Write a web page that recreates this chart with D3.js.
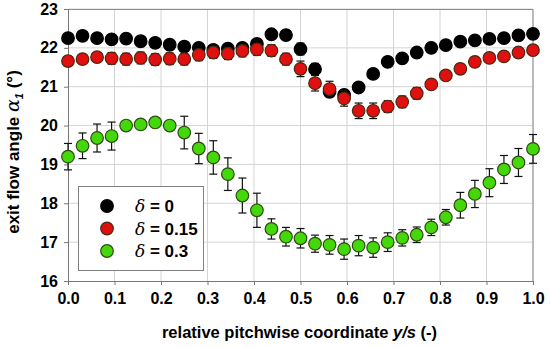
<!DOCTYPE html>
<html>
<head>
<meta charset="utf-8">
<script src="https://cdn.jsdelivr.net/npm/d3@7"></script>
<style>
  body { margin: 0; background: #fff; }
  text { font-family: "Liberation Sans", Arial, sans-serif; }
</style>
</head>
<body>
<div id="chart"></div>
<script>
// pitchwise positions y/s (33 traverse points)
const positions = d3.range(33).map(i => i / 32);

const angleDelta0 = [22.25, 22.31, 22.25, 22.22, 22.24, 22.17, 22.13, 22.08, 22.03, 22.0, 21.95,
  21.98, 22.0, 22.1, 22.35, 22.33, 21.97, 21.45, 20.87, 20.79, 20.98, 21.33, 21.64, 21.73,
  21.88, 22.0, 22.07, 22.16, 22.19, 22.23, 22.25, 22.32, 22.36];
const errDelta0 = [0.1, 0.12, 0.1, 0.1, 0.12, 0.1, 0.1, 0.1, 0.12, 0.1, 0.1, 0.1, 0.1, 0.12, 0.12,
  0.12, 0.15, 0.15, 0.12, 0.12, 0.12, 0.12, 0.12, 0.12, 0.1, 0.1, 0.1, 0.1, 0.1, 0.1, 0.1, 0.12, 0.12];

const angleDelta015 = [21.66, 21.71, 21.76, 21.73, 21.71, 21.74, 21.7, 21.72, 21.71, 21.82, 21.88,
  21.85, 21.92, 21.96, 21.93, 21.71, 21.46, 21.09, 20.94, 20.7, 20.38, 20.38, 20.49, 20.61,
  20.83, 21.06, 21.29, 21.46, 21.64, 21.74, 21.78, 21.88, 21.94];
const errDelta015 = [0.12, 0.12, 0.12, 0.15, 0.15, 0.15, 0.15, 0.15, 0.15, 0.15, 0.15, 0.15, 0.15,
  0.15, 0.15, 0.15, 0.2, 0.2, 0.2, 0.2, 0.2, 0.2, 0.15, 0.15, 0.15, 0.12, 0.12, 0.12, 0.12, 0.12,
  0.12, 0.12, 0.12];

const angleDelta03 = [19.2, 19.48, 19.68, 19.73, 20.0, 20.03, 20.08, 20.0, 19.82, 19.41, 19.18,
  18.75, 18.2, 17.82, 17.34, 17.14, 17.1, 16.96, 16.93, 16.82, 16.91, 16.86, 17.0, 17.11,
  17.19, 17.38, 17.64, 17.95, 18.24, 18.53, 18.87, 19.05, 19.4];
const errDelta03 = [0.34, 0.33, 0.36, 0.36, 0.12, 0.1, 0.1, 0.1, 0.42, 0.39, 0.43, 0.42, 0.45,
  0.44, 0.26, 0.24, 0.25, 0.22, 0.24, 0.26, 0.26, 0.25, 0.24, 0.21, 0.2, 0.21, 0.2, 0.33, 0.35,
  0.36, 0.36, 0.36, 0.37];

const seriesNames = ["0", "0.15", "0.3"];
const seriesFill = ["#000000", "#e01010", "#44d80a"];
const seriesStroke = ["#000000", "#4a2a10", "#2f4a10"];

const xTicks = d3.range(0, 1.01, 0.1);
const yTicks = [16, 17, 18, 19, 20, 21, 22, 23];

function graphDimensions() {
  const margin = {top: 9, right: 17, bottom: 67, left: 68};
  const width = 550 - margin.left - margin.right;
  const height = 348 - margin.top - margin.bottom;
  return [width, height, margin];
}

function appendToDom(width, height, margin) {
  return d3.select("#chart").append("svg")
    .attr("width", width + margin.left + margin.right)
    .attr("height", height + margin.top + margin.bottom)
    .append("g")
    .attr("transform", "translate(" + margin.left + "," + margin.top + ")");
}

function drawGrid(svg, x, y, width, height) {
  svg.append("g").selectAll("line.vg")
    .data(xTicks.slice(1))
    .enter().append("line")
    .attr("x1", d => x(d)).attr("x2", d => x(d))
    .attr("y1", 0).attr("y2", height)
    .attr("stroke", "#d4d4d4").attr("stroke-width", 1);
  svg.append("g").selectAll("line.hg")
    .data(yTicks.slice(1))
    .enter().append("line")
    .attr("x1", 0).attr("x2", width)
    .attr("y1", d => y(d)).attr("y2", d => y(d))
    .attr("stroke", "#d4d4d4").attr("stroke-width", 1);
  // frame on top and right
  svg.append("path")
    .attr("d", "M0,0.5H" + width + "V" + height)
    .attr("fill", "none").attr("stroke", "#8c8c8c").attr("stroke-width", 1);
}

function drawAxes(svg, x, y, height) {
  const xa = svg.append("g")
    .attr("transform", "translate(0," + height + ")")
    .call(d3.axisBottom(x).tickValues(xTicks).tickSize(4).tickPadding(8).tickFormat(d3.format(".1f")));
  const ya = svg.append("g")
    .call(d3.axisLeft(y).tickValues(yTicks).tickSize(4).tickPadding(6).tickFormat(d3.format("d")));
  [xa, ya].forEach(a => {
    a.select(".domain").attr("stroke", "#777");
    a.selectAll(".tick line").attr("stroke", "#777");
    a.selectAll("text")
      .style("font-size", "16px")
      .style("font-weight", "bold")
      .attr("fill", "#000")
      .style("font-family", "'Liberation Sans', Arial, sans-serif");
  });
}

function drawLabels(svg, width, height) {
  const xl = svg.append("text")
    .attr("x", width / 2 - 1)
    .attr("y", height + 57)
    .attr("text-anchor", "middle")
    .style("font-size", "16.5px")
    .style("font-weight", "bold");
  xl.append("tspan").text("relative pitchwise coordinate ");
  xl.append("tspan").style("font-style", "italic").text("y/s");
  xl.append("tspan").text(" (-)");

  const yl = svg.append("text")
    .attr("transform", "translate(-49," + (height / 2 + 7) + ")rotate(-90)")
    .attr("text-anchor", "middle")
    .style("font-size", "17px")
    .style("font-weight", "bold");
  yl.append("tspan").text("exit flow angle ");
  yl.append("tspan").style("font-style", "italic").style("font-weight", "normal")
    .style("font-family", "'DejaVu Serif', serif").style("font-size", "19px").text("α");
  yl.append("tspan").style("font-style", "italic").style("font-size", "11px").attr("dy", 4).text("1");
  yl.append("tspan").attr("dy", -4).text(" (°)");
}

function plotSeries(svg, x, y, values, errs, k) {
  const data = positions.map((p, i) => ({p: p, v: values[i], e: errs[i]}));
  const g = svg.append("g");
  const cap = 4;
  data.forEach(d => {
    const y1 = y(d.v + d.e), y2 = y(d.v - d.e), cx = x(d.p);
    g.append("line").attr("x1", cx).attr("x2", cx).attr("y1", y1).attr("y2", y2)
      .attr("stroke", "#111").attr("stroke-width", 1.2);
    g.append("line").attr("x1", cx - cap).attr("x2", cx + cap).attr("y1", y1).attr("y2", y1)
      .attr("stroke", "#111").attr("stroke-width", 1.2);
    g.append("line").attr("x1", cx - cap).attr("x2", cx + cap).attr("y1", y2).attr("y2", y2)
      .attr("stroke", "#111").attr("stroke-width", 1.2);
  });
  g.selectAll("circle")
    .data(data)
    .enter().append("circle")
    .attr("cx", d => x(d.p))
    .attr("cy", d => y(d.v))
    .attr("r", 6.3)
    .attr("fill", seriesFill[k])
    .attr("stroke", seriesStroke[k])
    .attr("stroke-width", 1.2);
}

function drawLegend(svg) {
  const lg = svg.append("g").attr("transform", "translate(10,177)");
  lg.append("rect")
    .attr("x", 0.5).attr("y", 0.5).attr("width", 125).attr("height", 84)
    .attr("fill", "#fff").attr("stroke", "#808080").attr("stroke-width", 1);
  seriesNames.forEach((name, k) => {
    const row = lg.append("g").attr("transform", "translate(0," + (20 + k * 22.5) + ")");
    row.append("circle").attr("cx", 29).attr("cy", 0).attr("r", 6.3)
      .attr("fill", seriesFill[k]).attr("stroke", seriesStroke[k]).attr("stroke-width", 1.2);
    const t = row.append("text").attr("x", 57).attr("y", 6)
      .style("font-size", "17px").style("font-weight", "bold");
    t.append("tspan").style("font-style", "italic").style("font-weight", "normal")
      .style("font-family", "'DejaVu Serif', serif").text("δ");
    t.append("tspan").text(" = " + name);
  });
}

function drawGraph() {
  const [width, height, margin] = graphDimensions();
  const svg = appendToDom(width, height, margin);
  const x = d3.scaleLinear().domain([0, 1]).range([0, width]);
  const y = d3.scaleLinear().domain([16, 23]).range([height, 0]);
  drawGrid(svg, x, y, width, height);
  drawAxes(svg, x, y, height);
  plotSeries(svg, x, y, angleDelta0, errDelta0, 0);
  plotSeries(svg, x, y, angleDelta015, errDelta015, 1);
  plotSeries(svg, x, y, angleDelta03, errDelta03, 2);
  drawLegend(svg);
  drawLabels(svg, width, height);
}

drawGraph();
</script>
</body>
</html>
